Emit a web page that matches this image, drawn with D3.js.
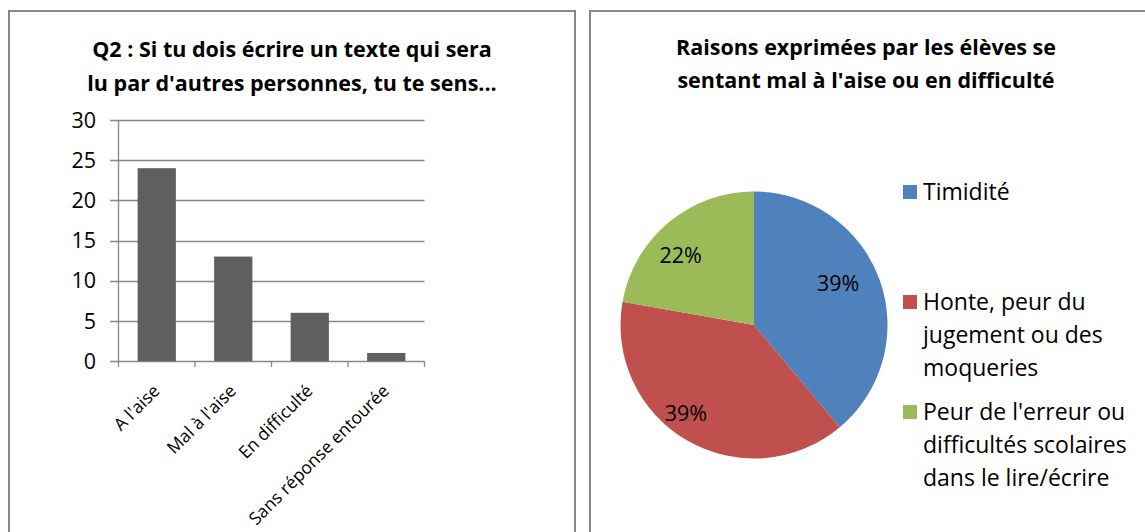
<!DOCTYPE html>
<html><head><meta charset="utf-8">
<script src="https://cdn.jsdelivr.net/npm/d3@7"></script>
<style>body{margin:0;background:#fff}svg{display:block}text{font-family:"Open Sans","Noto Sans",sans-serif}</style>
</head><body>
<svg id="c" width="1145" height="532"></svg>
<script>
const barTitle = ["Q2 : Si tu dois écrire un texte qui sera", "lu par d'autres personnes, tu te sens..."];
const barCategories = ["A l'aise", "Mal à l'aise", "En difficulté", "Sans réponse entourée"];
const barValues = [24, 13, 6, 1];
const yTicks = [0, 5, 10, 15, 20, 25, 30];

const pieTitle = ["Raisons exprimées par les élèves se", "sentant mal à l'aise ou en difficulté"];
const pieCategories = ["Timidité", "Honte, peur du jugement ou des moqueries", "Peur de l'erreur ou difficultés scolaires dans le lire/écrire"];
const pieValues = [7, 7, 4];
const pieLabels = ["39%", "39%", "22%"];
const legendLines = [["Timidité"], ["Honte, peur du", "jugement ou des", "moqueries"], ["Peur de l'erreur ou", "difficultés scolaires", "dans le lire/écrire"]];
const pieColors = ["#4F81BD", "#C0504D", "#9BBB59"];

const svg = d3.select("#c");
// panels
svg.append("rect").attr("x", 9).attr("y", 11).attr("width", 566).attr("height", 540)
  .attr("fill", "#fff").attr("stroke", "#878787").attr("stroke-width", 2);
svg.append("rect").attr("x", 590).attr("y", 11).attr("width", 580).attr("height", 540)
  .attr("fill", "#fff").attr("stroke", "#878787").attr("stroke-width", 2);

// ---- Bar chart
const x = d3.scaleBand().domain(barCategories).range([118.5, 424.5]).paddingInner(0.5).paddingOuter(0.25);
const y = d3.scaleLinear().domain([0, 30]).range([361, 120]);
const g = svg.append("g");

g.selectAll(".grid").data(yTicks).join("line")
  .attr("x1", 110).attr("x2", 424.5)
  .attr("y1", d => Math.round(y(d)) + 0.5).attr("y2", d => Math.round(y(d)) + 0.5)
  .attr("stroke", "#878787").attr("stroke-width", 1.3);

g.selectAll(".ylab").data(yTicks).join("text")
  .attr("x", 96).attr("y", d => y(d)).attr("dy", "0.36em")
  .attr("text-anchor", "end").attr("font-size", 21.5).attr("fill", "#000")
  .text(d => d);

g.selectAll(".bar").data(barValues).join("rect")
  .attr("x", (d, i) => x(barCategories[i])).attr("width", x.bandwidth())
  .attr("y", d => y(d)).attr("height", d => y(0) - y(d))
  .attr("fill", "#5F5F5F");

// axes
g.append("line").attr("x1", 118.5).attr("x2", 118.5).attr("y1", 120).attr("y2", 361.5)
  .attr("stroke", "#878787").attr("stroke-width", 1.3);
const bounds = d3.range(barCategories.length + 1).map(i => 118.5 + i * (306 / barCategories.length));
g.selectAll(".xt").data(bounds).join("line")
  .attr("x1", d => d).attr("x2", d => d).attr("y1", 361.5).attr("y2", 367)
  .attr("stroke", "#878787").attr("stroke-width", 1.3);

g.selectAll(".xlab").data(barCategories).join("text")
  .attr("transform", d => `translate(${x(d) + x.bandwidth() / 2 + 4},${392}) rotate(-45)`)
  .attr("text-anchor", "end").attr("font-size", 17.5).attr("fill", "#000")
  .text(d => d);

svg.selectAll(".bt").data(barTitle).join("text")
  .attr("x", 292).attr("y", (d, i) => 57 + i * 34)
  .attr("text-anchor", "middle").attr("font-weight", "bold").attr("font-size", 21.5)
  .text(d => d);

// ---- Pie chart
const cx = 754, cy = 325, r = 133.5;
const pie = d3.pie().sort(null).value(d => d);
const arcs = pie(pieValues);
const arc = d3.arc().innerRadius(0).outerRadius(r);
const pg = svg.append("g").attr("transform", `translate(${cx},${cy})`);
pg.selectAll("path").data(arcs).join("path")
  .attr("d", arc).attr("fill", (d, i) => pieColors[i]);
const labelNudge = [[-10, -8], [-18, 2], [-9, 7]];
const labArc = d3.arc().innerRadius(r * 0.75).outerRadius(r * 0.75);
pg.selectAll(".pl").data(arcs).join("text")
  .attr("x", (d, i) => labArc.centroid(d)[0] + labelNudge[i][0])
  .attr("y", (d, i) => labArc.centroid(d)[1] + labelNudge[i][1]).attr("dy", "0.36em")
  .attr("text-anchor", "middle").attr("font-size", 21.5).attr("fill", "#000")
  .text((d, i) => pieLabels[i]);

svg.selectAll(".pt").data(pieTitle).join("text")
  .attr("x", 866).attr("y", (d, i) => 55 + i * 33)
  .attr("text-anchor", "middle").attr("font-weight", "bold").attr("font-size", 21.5)
  .text(d => d);

const legStart = [192, 302, 412];
const lg = svg.append("g");
legendLines.forEach((lines, i) => {
  lg.append("rect").attr("x", 903).attr("y", legStart[i] - 7).attr("width", 14).attr("height", 14)
    .attr("fill", pieColors[i]);
  lines.forEach((t, j) => {
    lg.append("text").attr("x", 923).attr("y", legStart[i] + j * 33).attr("dy", "0.36em")
      .attr("font-size", 23).attr("fill", "#000").text(t);
  });
});
</script>
</body></html>
